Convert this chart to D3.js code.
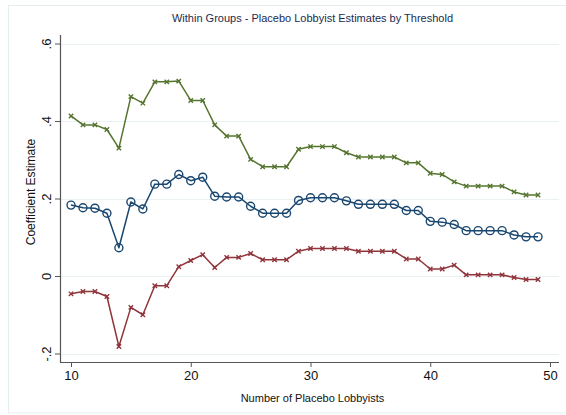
<!DOCTYPE html>
<html>
<head>
<meta charset="utf-8">
<script src="https://cdn.jsdelivr.net/npm/d3@7"></script>
<style>
  html, body { margin: 0; padding: 0; background: #fff; }
  svg { display: block; font-family: "Liberation Sans", Arial, Helvetica, sans-serif; }
</style>
</head>
<body>
<svg id="chart" width="566" height="415"></svg>
<script>
// Placebo lobbyist thresholds
const thresholds = d3.range(10, 50);

// Upper bound of the estimate
const upperBound = [
  0.413, 0.390, 0.390, 0.378, 0.330, 0.463, 0.446, 0.501, 0.501, 0.503,
  0.453, 0.453, 0.390, 0.361, 0.361, 0.301, 0.282, 0.282, 0.282, 0.327,
  0.334, 0.334, 0.334, 0.318, 0.307, 0.307, 0.307, 0.307, 0.292, 0.292,
  0.265, 0.262, 0.243, 0.232, 0.232, 0.232, 0.232, 0.217, 0.209, 0.209
];

// Point estimate
const pointEstimate = [
  0.183, 0.176, 0.175, 0.162, 0.073, 0.191, 0.173, 0.237, 0.237, 0.262,
  0.246, 0.255, 0.206, 0.204, 0.204, 0.180, 0.162, 0.162, 0.162, 0.195,
  0.202, 0.202, 0.202, 0.194, 0.185, 0.185, 0.185, 0.185, 0.169, 0.169,
  0.141, 0.139, 0.133, 0.117, 0.117, 0.117, 0.117, 0.106, 0.101, 0.101
];

// Lower bound of the estimate
const lowerBound = [
  -0.046, -0.040, -0.040, -0.053, -0.182, -0.081, -0.100, -0.025, -0.025, 0.024,
   0.040,  0.055,  0.022,  0.048,  0.048,  0.058,  0.042,  0.042,  0.042, 0.064,
   0.071,  0.071,  0.071,  0.071,  0.064,  0.064,  0.064,  0.064,  0.044, 0.044,
   0.018,  0.018,  0.028,  0.003,  0.003,  0.003,  0.003, -0.004, -0.009, -0.009
];

const xTicks = [10, 20, 30, 40, 50];
const yTicks = [-0.2, 0, 0.2, 0.4, 0.6];
const yTickLabels = ["-.2", "0", ".2", ".4", ".6"];

const titleText = "Within Groups - Placebo Lobbyist Estimates by Threshold";
const xTitle = "Number of Placebo Lobbyists";
const yTitle = "Coefficient Estimate";

const svg = d3.select("#chart");

// Frame of the plot region
const plot = { left: 60, right: 559, top: 35, bottom: 362 };

const x = d3.scaleLinear().domain([10, 50]).range([71, 550]);
const y = d3.scaleLinear().domain([-0.2, 0.6]).range([353.5, 43.5]);

// Outer graph-region border
svg.append("rect")
  .attr("x", 8.5).attr("y", 5.5)
  .attr("width", 580).attr("height", 407.5)
  .attr("fill", "none")
  .attr("stroke", "#e4edf0")
  .attr("stroke-width", 1);

// Horizontal gridlines
svg.append("g")
  .selectAll("line")
  .data(yTicks)
  .join("line")
  .attr("x1", plot.left).attr("x2", plot.right)
  .attr("y1", d => Math.round(y(d)) + 0.5)
  .attr("y2", d => Math.round(y(d)) + 0.5)
  .attr("stroke", "#eaf1f3")
  .attr("stroke-width", 1.2);

// Y axis
const yAxis = d3.axisLeft(y)
  .tickValues(yTicks)
  .tickFormat((d, i) => yTickLabels[i])
  .tickSize(5)
  .tickPadding(4);

const gy = svg.append("g")
  .attr("transform", `translate(${plot.left},0)`)
  .call(yAxis);
gy.select(".domain").remove();
gy.selectAll(".tick line").attr("stroke", "#555").attr("stroke-width", 1);
gy.selectAll(".tick text")
  .attr("font-size", 13)
  .attr("fill", "#111")
  .attr("text-anchor", "middle")
  .attr("transform", "rotate(-90)")
  .attr("x", 0)
  .attr("dy", 0)
  .attr("y", -9);

svg.append("line")
  .attr("x1", plot.left + 0.5).attr("x2", plot.left + 0.5)
  .attr("y1", plot.top).attr("y2", plot.bottom)
  .attr("stroke", "#555").attr("stroke-width", 1.2);

// X axis
const xAxis = d3.axisBottom(x)
  .tickValues(xTicks)
  .tickFormat(d3.format("d"))
  .tickSize(5)
  .tickPadding(4);

const gx = svg.append("g")
  .attr("transform", `translate(0,${plot.bottom})`)
  .call(xAxis);
gx.select(".domain").remove();
gx.selectAll(".tick line").attr("stroke", "#555").attr("stroke-width", 1);
gx.selectAll(".tick text")
  .attr("font-size", 13)
  .attr("fill", "#111");

svg.append("line")
  .attr("x1", plot.left).attr("x2", plot.right)
  .attr("y1", plot.bottom + 0.5).attr("y2", plot.bottom + 0.5)
  .attr("stroke", "#555").attr("stroke-width", 1.2);

// Titles
svg.append("text")
  .attr("x", (plot.left + plot.right) / 2 + 3)
  .attr("y", 22)
  .attr("text-anchor", "middle")
  .attr("font-size", 11)
  .attr("fill", "#1d2b4c")
  .text(titleText);

svg.append("text")
  .attr("x", (plot.left + plot.right) / 2 + 3)
  .attr("y", 402)
  .attr("text-anchor", "middle")
  .attr("font-size", 11)
  .attr("fill", "#111")
  .text(xTitle);

svg.append("text")
  .attr("transform", `translate(35,192) rotate(-90)`)
  .attr("text-anchor", "middle")
  .attr("font-size", 12)
  .attr("fill", "#111")
  .text(yTitle);

// Series
const line = d3.line()
  .x(d => x(d[0]))
  .y(d => y(d[1]));

function drawSeries(values, color, marker) {
  const pts = thresholds.map((t, i) => [t, values[i]]);
  const g = svg.append("g");
  g.append("path")
    .datum(pts)
    .attr("d", line)
    .attr("fill", "none")
    .attr("stroke", color)
    .attr("stroke-width", 1.5)
    .attr("stroke-linejoin", "round");
  if (marker === "circle") {
    g.selectAll("circle")
      .data(pts)
      .join("circle")
      .attr("cx", d => x(d[0]))
      .attr("cy", d => y(d[1]))
      .attr("r", 4)
      .attr("fill", "none")
      .attr("stroke", color)
      .attr("stroke-width", 1.4);
  } else {
    const s = 2.2;
    g.selectAll("path.mark")
      .data(pts)
      .join("path")
      .attr("class", "mark")
      .attr("d", d => {
        const cx = x(d[0]), cy = y(d[1]);
        return `M${cx - s},${cy - s}L${cx + s},${cy + s}M${cx - s},${cy + s}L${cx + s},${cy - s}`;
      })
      .attr("stroke", color)
      .attr("stroke-width", 1.4);
  }
}

drawSeries(upperBound, "#55752f", "x");
drawSeries(pointEstimate, "#1a476f", "circle");
drawSeries(lowerBound, "#90353b", "x");
</script>
</body>
</html>
